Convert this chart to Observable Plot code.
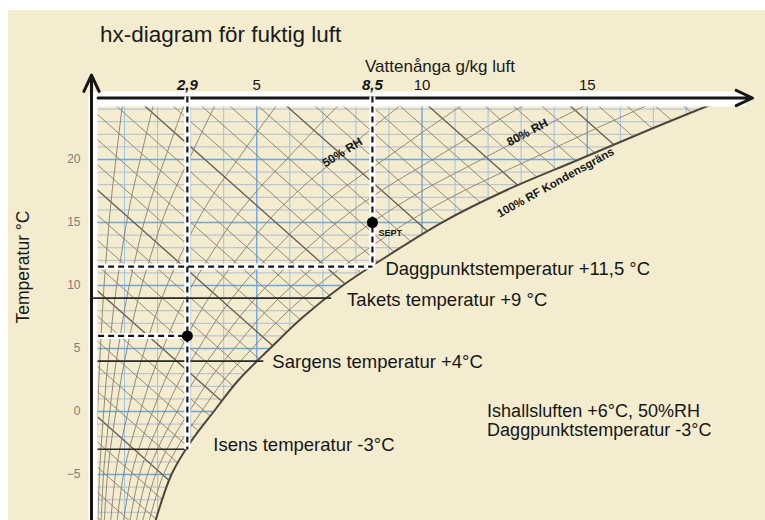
<!DOCTYPE html>
<html><head><meta charset="utf-8">
<script src="https://cdn.jsdelivr.net/npm/d3@7"></script>
<script src="https://cdn.jsdelivr.net/npm/@observablehq/plot@0.6"></script>
<style>
body{margin:0;background:#fff;}
#wrap{position:relative;width:765px;height:520px;overflow:hidden;font-family:"Liberation Sans",Arial,sans-serif;color:#1a1a1a;}
#panel{position:absolute;left:8px;top:10px;right:0;bottom:0;background:#f3eccf;}
#chart{position:absolute;left:0;top:0;}
.t{position:absolute;white-space:nowrap;line-height:1;}
</style></head><body>
<div id="wrap"><div id="panel"></div><div id="chart"></div>
<div class="t" style="left:100px;top:24px;font-size:22.5px;">hx-diagram för fuktig luft</div>
<div class="t" style="left:440px;top:58px;font-size:17px;transform:translateX(-50%)">Vattenånga g/kg luft</div>
<div class="t" style="left:24px;top:267px;font-size:17.5px;transform:translate(-50%,-50%) rotate(-90deg)">Temperatur °C</div>
</div>
<script>
// ---- data ----
// saturation (100% RF) curve: temperature (°C) and vapour content (g/kg)
const satT = [-8.65, -5, -2.5, 0, 2.5, 5, 7.5, 10, 12.5, 15, 17.5, 20, 22.5, 25];
const satX = [1.94, 2.42, 2.98, 3.7, 4.45, 5.4, 6.4, 7.6, 9.05, 10.6, 12.5, 14.75, 17.0, 19.35];
// relative humidity curves
const rhLevels = [0.05, 0.1, 0.15, 0.2, 0.3, 0.4, 0.5, 0.6, 0.7, 0.8, 0.9];
// enthalpy lines: temperature where each line meets x = 0, and common slope (°C per g/kg)
const enthalpyT0 = [-8,-6,-4,-2,0,2,4,6,8,10,12,14,16,18,20,22,24,26,28,30,32,34,36,38,40,42,44,46,48,50,52,54,56,58,60,62,64,66,68,70];
const enthalpyMajor = [0, 10, 18, 28, 38, 48, 58];
const enthalpySlope = 2.33;
// axis ticks
const xTicks = [5, 10, 15];
const xMarkedTicks = [2.9, 8.5];
const yTicks = [-5, 0, 5, 10, 15, 20];
const gridXMinor = [1,2,3,4,6,7,8,9,11,12,13,14,16,17,18,19];
const gridXMajor = [5, 10, 15];
const gridTMinor = [-8,-7,-6,-4,-3,-2,-1,1,2,3,4,6,7,8,9,11,12,13,14,16,17,18,19,21,22,23,24];
const gridTMajor = [-5, 0, 5, 10, 15, 20];
// state points (g/kg, °C) and their dew points (°C)
const pointX = [2.9, 8.5];
const pointT = [6, 15];
const dewT = [-3, 11.5];
// reference temperature lines
const refTemps = [9, 4, -3];
const refEnds = [7.25, 5.2, 2.9];
const refLabels = ["Takets temperatur +9 °C", "Sargens temperatur +4°C", "Isens temperatur -3°C"];
const refDx = [16, 9, 26];
const refDy = [2, 1, -4];
const dewLabel = "Daggpunktstemperatur +11,5 °C";
const noteLines = ["Ishallsluften +6°C, 50%RH", "Daggpunktstemperatur -3°C"];
const noteX = 11.97;
const noteT = [0, -1.5];
const curveLabels = ["50% RH", "80% RH", "100% RF Kondensgräns"];
const curveLabelX = [7.59, 13.19, 14.04];
const curveLabelT = [20.56, 22.14, 18.17];
const curveLabelRot = [-32, -28, -29];
const curveLabelSize = [12, 12, 11.5];

// ---- derived tables ----
const xMin = 0, xMax = 20, tMin = -8.65, tMax = 25, arrowTop = 26.7;
const bg = "#f3eccf";
const sat = satT.map((T, i) => ({T, x: satX[i]}));
const rhCurves = rhLevels.flatMap(rh => sat.map(d => ({rh, T: d.T, x: rh * d.x})));
const hLine = t0 => ({x1: xMin, y1: t0, x2: xMax, y2: t0 - enthalpySlope * (xMax - xMin)});
const hMinor = enthalpyT0.filter(t => !enthalpyMajor.includes(t)).map(hLine);
const hMajor = enthalpyMajor.map(hLine);
const refs = refTemps.map((T, i) => ({T, x2: refEnds[i], label: refLabels[i]}));
const dashes = [
  {x1: pointX[0], y1: tMax, x2: pointX[0], y2: dewT[0]},
  {x1: xMin + 0.2, y1: pointT[0], x2: pointX[0], y2: pointT[0]},
  {x1: pointX[1], y1: tMax, x2: pointX[1], y2: dewT[1]},
  {x1: xMin + 0.2, y1: dewT[1], x2: pointX[1], y2: dewT[1]}
];
const pts = pointX.map((x, i) => ({x, T: pointT[i]}));
const fmt = d => String(d).replace(".", ",");
const ink = "#161616";

const plot = Plot.plot({
  width: 765, height: 520,
  marginLeft: 91, marginRight: 13, marginTop: 96, marginBottom: 0,
  x: {domain: [xMin, xMax], axis: null},
  y: {domain: [tMin, tMax], axis: null},
  style: {background: "transparent", overflow: "visible", fontFamily: "Liberation Sans, Arial, sans-serif"},
  marks: [
    // grid
    Plot.ruleY(gridTMinor, {stroke: "#aab5d4", strokeWidth: 0.9}),
    Plot.ruleX(gridXMinor, {stroke: "#93bfe3", strokeWidth: 0.9}),
    Plot.ruleY(gridTMajor, {stroke: "#6fa7dc", strokeWidth: 1.4}),
    Plot.ruleX(gridXMajor, {stroke: "#6fa7dc", strokeWidth: 1.4}),
    // enthalpy lines
    Plot.link(hMinor, {x1: "x1", y1: "y1", x2: "x2", y2: "y2", stroke: "#8a7e6e", strokeWidth: 0.9, clip: true}),
    Plot.link(hMajor, {x1: "x1", y1: "y1", x2: "x2", y2: "y2", stroke: "#665b4e", strokeWidth: 1.3, clip: true}),
    // RH curves
    Plot.line(rhCurves, {x: "x", y: "T", z: "rh", stroke: "#8a7e6e", strokeWidth: 0.9, curve: "catmull-rom", clip: true}),
    // mask outside saturation
    Plot.areaX(sat, {y: "T", x1: "x", x2: () => xMax, fill: bg, curve: "catmull-rom"}),
    // saturation curve
    Plot.line(sat, {x: "x", y: "T", stroke: "#4e463d", strokeWidth: 2, curve: "catmull-rom", clip: true}),
    // Sargens & Isens lines
    Plot.link(refs.slice(1), {x1: xMin, x2: "x2", y1: "T", y2: "T", stroke: "#2e2a26", strokeWidth: 1.6}),
    // white bands along axes
    Plot.ruleY([tMax], {x1: xMin, x2: xMax - 0.2, stroke: "white", strokeWidth: 15, dy: 2.5}),
    Plot.ruleX([xMin], {y1: tMin, y2: tMax, stroke: "white", strokeWidth: 9, dx: 1.5}),
    // axes with arrows
    Plot.arrow([{x1: xMin + 0.2, y1: tMax, x2: xMax, y2: tMax}], {x1: "x1", y1: "y1", x2: "x2", y2: "y2", stroke: ink, strokeWidth: 3, headLength: 9, headAngle: 50, dy: 1.5}),
    Plot.arrow([{x1: xMin, y1: tMin, x2: xMin, y2: arrowTop}], {x1: "x1", y1: "y1", x2: "x2", y2: "y2", stroke: ink, strokeWidth: 3, headLength: 9, headAngle: 50}),
    // dashed guide lines
    Plot.link(dashes, {x1: "x1", y1: "y1", x2: "x2", y2: "y2", stroke: "white", strokeWidth: 6}),
    Plot.link(dashes, {x1: "x1", y1: "y1", x2: "x2", y2: "y2", stroke: ink, strokeWidth: 2.2, strokeDasharray: "6,4"}),
    // Takets line (crosses the dashed line)
    Plot.link(refs.slice(0, 1), {x1: xMin, x2: "x2", y1: "T", y2: "T", stroke: "#2e2a26", strokeWidth: 1.6}),
    // state points
    Plot.dot(pts, {x: "x", y: "T", r: 5.5, fill: "#000"}),
    Plot.text(["SEPT"], {x: pointX[1], y: pointT[1], text: d => d, dx: 6, dy: 11, textAnchor: "start", fontSize: 9, fontWeight: "bold", fill: ink}),
    // labels
    ...refs.map((r, i) => Plot.text([r], {x: "x2", y: "T", text: "label", dx: refDx[i], dy: refDy[i], textAnchor: "start", fontSize: 18.5, fill: ink})),
    Plot.text([dewLabel], {x: pointX[1], y: dewT[1], text: d => d, dx: 13, dy: 2, textAnchor: "start", fontSize: 18.5, fill: ink}),
    ...noteLines.map((s, i) => Plot.text([s], {x: noteX, y: noteT[i], text: d => d, textAnchor: "start", fontSize: 18, fill: ink})),
    ...curveLabels.map((s, i) => Plot.text([s], {x: curveLabelX[i], y: curveLabelT[i], text: d => d, rotate: curveLabelRot[i], fontSize: curveLabelSize[i], fontWeight: "bold", fill: ink})),
    // axis labels
    Plot.axisX(xTicks, {anchor: "top", tickSize: 0, tickPadding: 7, fontSize: 15, tickFormat: fmt, label: null, color: ink}),
    Plot.axisX(xMarkedTicks, {anchor: "top", tickSize: 0, tickPadding: 7, fontSize: 15, fontWeight: "bold", fontStyle: "italic", tickFormat: fmt, label: null, color: ink}),
    Plot.axisY(yTicks, {anchor: "left", tickSize: 0, tickPadding: 11, fontSize: 12, label: null, color: "#7d7d7d"})
  ]
});
document.getElementById("chart").appendChild(plot);
</script>
</body></html>
